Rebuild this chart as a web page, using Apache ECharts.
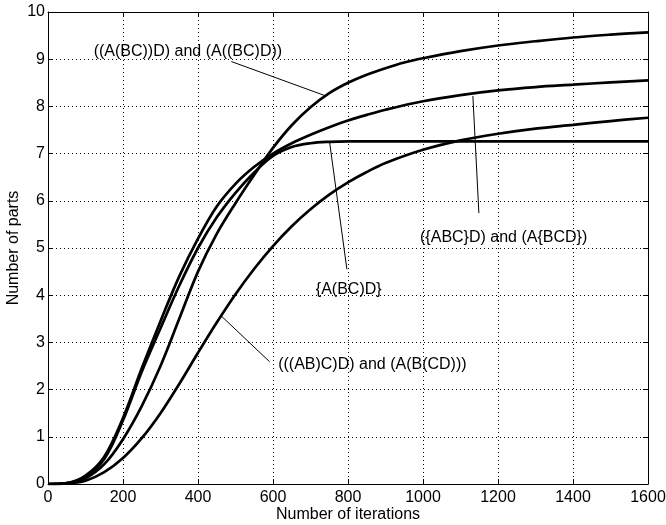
<!DOCTYPE html>
<html>
<head>
<meta charset="utf-8">
<script src="https://cdn.jsdelivr.net/npm/echarts@6/dist/echarts.min.js"></script>
<style>
  html, body { margin: 0; padding: 0; background: #fff; }
  #main { width: 666px; height: 525px; }
</style>
</head>
<body>
<div id="main"></div>
<script type="text/javascript">
    // curves, [iterations, parts]
    var curveABCD_nested = [
        [0, 0], [50, 0.01], [100, 0.12], [150, 0.42], [200, 0.95], [250, 1.65], [300, 2.5],
        [350, 3.5], [400, 4.5], [450, 5.3], [500, 5.95], [550, 6.55], [600, 7.12], [650, 7.6],
        [700, 7.98], [750, 8.28], [800, 8.5], [850, 8.67], [900, 8.81], [950, 8.93], [1000, 9.02],
        [1100, 9.17], [1200, 9.29], [1300, 9.38], [1400, 9.46], [1500, 9.52], [1600, 9.57]
    ];
    var curveABC_D = [
        [0, 0], [50, 0.02], [100, 0.18], [150, 0.58], [200, 1.4], [250, 2.45], [300, 3.45],
        [350, 4.4], [400, 5.2], [450, 5.88], [500, 6.36], [550, 6.72], [600, 7.0], [650, 7.22],
        [700, 7.4], [750, 7.56], [800, 7.7], [850, 7.82], [900, 7.93], [1000, 8.11], [1100, 8.24],
        [1200, 8.34], [1300, 8.41], [1400, 8.46], [1500, 8.51], [1600, 8.55]
    ];
    var curveA_BC_D = [
        [0, 0], [50, 0.02], [100, 0.15], [150, 0.53], [200, 1.35], [250, 2.38], [300, 3.3],
        [350, 4.2], [400, 5.0], [450, 5.65], [500, 6.17], [550, 6.6], [600, 6.95], [650, 7.14],
        [700, 7.22], [750, 7.25], [800, 7.26], [900, 7.26], [1000, 7.26], [1200, 7.26],
        [1400, 7.26], [1600, 7.26]
    ];
    var curveAB_C_D = [
        [0, 0], [50, 0.01], [100, 0.07], [150, 0.25], [200, 0.55], [250, 0.97], [300, 1.5],
        [350, 2.12], [400, 2.78], [450, 3.42], [500, 4.02], [550, 4.56], [600, 5.04], [650, 5.46],
        [700, 5.82], [750, 6.13], [800, 6.39], [850, 6.61], [900, 6.8], [1000, 7.08], [1100, 7.28],
        [1200, 7.42], [1300, 7.53], [1400, 7.61], [1500, 7.69], [1600, 7.76]
    ];

    var xTicks = { min: 0, max: 1600, step: 200 };
    var yTicks = { min: 0, max: 10, step: 1 };

    // annotation texts and their leader lines (data coords)
    var labelTexts = ['((A(BC))D) and (A((BC)D))', '({ABC}D) and (A{BCD})', '{A(BC)D}', '(((AB)C)D) and (A(B(CD)))'];
    var labelAt = [[373, 9.16], [1215, 5.23], [802, 4.11], [865, 2.52]];
    var leaderFrom = [[489, 8.95], [1133, 8.22], [751, 7.24], [462, 3.56]];
    var leaderTo = [[738, 8.23], [1149, 5.74], [797, 4.55], [591, 2.59]];

    var font = '"Liberation Sans", Arial, Helvetica, sans-serif';
    var black = '#000';

    function curve(name, data) {
        return {
            name: name,
            type: 'line',
            data: data,
            smooth: 0.35,
            showSymbol: false,
            symbol: 'none',
            lineStyle: { color: black, width: 2.7 },
            silent: true
        };
    }

    var leaders = [];
    for (var i = 0; i < leaderFrom.length; i++) {
        leaders.push([{ coord: leaderFrom[i] }, { coord: leaderTo[i] }]);
    }
    var labelPoints = [];
    for (var j = 0; j < labelTexts.length; j++) {
        labelPoints.push({ name: labelTexts[j], value: labelAt[j] });
    }

    var series = [
        curve('((A(BC))D) and (A((BC)D))', curveABCD_nested),
        curve('({ABC}D) and (A{BCD})', curveABC_D),
        curve('{A(BC)D}', curveA_BC_D),
        curve('(((AB)C)D) and (A(B(CD)))', curveAB_C_D)
    ];
    series[0].markLine = {
        silent: true,
        symbol: ['none', 'none'],
        label: { show: false },
        lineStyle: { color: black, width: 1, type: 'solid' },
        data: leaders
    };
    series.push({
        type: 'scatter',
        data: labelPoints,
        symbolSize: 0,
        itemStyle: { color: black, opacity: 1 },
        silent: true,
        label: {
            show: true,
            position: 'inside',
            formatter: function (p) { return p.name; },
            color: black,
            opacity: 1,
            fontSize: 16,
            fontFamily: font
        }
    });

    var myChart = echarts.init(document.getElementById('main'), null, { renderer: 'canvas' });
    myChart.setOption({
        animation: false,
        backgroundColor: '#fff',
        grid: { left: 48, right: 18, top: 12, bottom: 41, containLabel: false, outerBoundsMode: 'none' },
        xAxis: [
            {
                type: 'value',
                min: xTicks.min, max: xTicks.max, interval: xTicks.step,
                name: 'Number of iterations',
                nameLocation: 'middle',
                nameGap: 23,
                nameMoveOverlap: false,
                nameTextStyle: { color: black, fontSize: 16, fontFamily: font },
                axisLine: { show: true, lineStyle: { color: black, width: 1 } },
                axisTick: { show: true, inside: true, length: 5, lineStyle: { color: black } },
                axisLabel: {
                    color: black, fontSize: 16, fontFamily: font, margin: 6,
                    formatter: function (v) { return String(v); }
                },
                splitLine: { show: true, lineStyle: { color: black, width: 1, type: [1, 3] } }
            },
            {
                type: 'value', position: 'top',
                min: xTicks.min, max: xTicks.max, interval: xTicks.step,
                axisLine: { show: true, onZero: false, lineStyle: { color: black, width: 1 } },
                axisTick: { show: true, inside: true, length: 5, lineStyle: { color: black } },
                axisLabel: { show: false },
                splitLine: { show: false }
            }
        ],
        yAxis: [
            {
                type: 'value',
                min: yTicks.min, max: yTicks.max, interval: yTicks.step,
                name: 'Number of parts',
                nameLocation: 'middle',
                nameGap: 26,
                nameMoveOverlap: false,
                nameTextStyle: { color: black, fontSize: 16, fontFamily: font },
                axisLine: { show: true, lineStyle: { color: black, width: 1 } },
                axisTick: { show: true, inside: true, length: 5, lineStyle: { color: black } },
                axisLabel: { color: black, fontSize: 16, fontFamily: font, margin: 3 },
                splitLine: { show: true, lineStyle: { color: black, width: 1, type: [1, 3] } }
            },
            {
                type: 'value', position: 'right',
                min: yTicks.min, max: yTicks.max, interval: yTicks.step,
                axisLine: { show: true, onZero: false, lineStyle: { color: black, width: 1 } },
                axisTick: { show: true, inside: true, length: 5, lineStyle: { color: black } },
                axisLabel: { show: false },
                splitLine: { show: false }
            }
        ],
        series: series
    });
</script>
</body>
</html>
